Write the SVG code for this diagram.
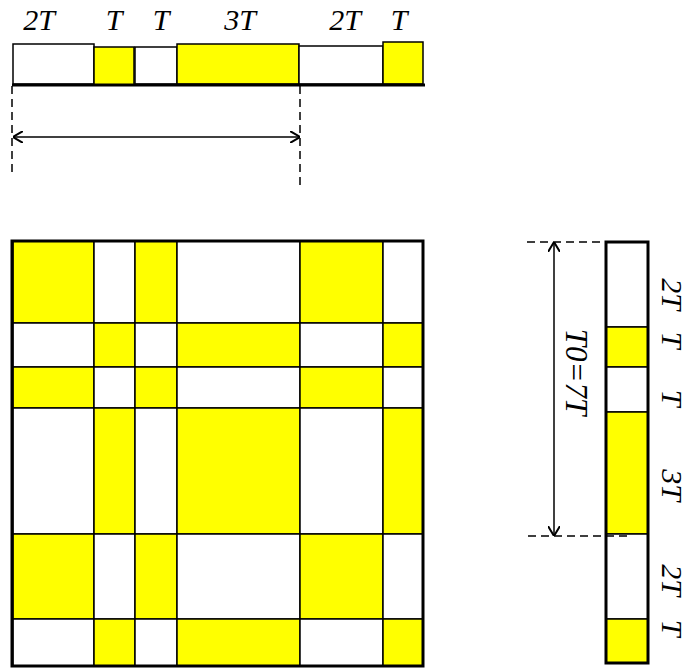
<svg xmlns="http://www.w3.org/2000/svg" width="689" height="670" viewBox="0 0 689 670">
<style>
.y{fill:#ffff00;stroke:#000;stroke-width:1.5}
.w{fill:#fff;stroke:#000;stroke-width:1.5}
.lbl{font-family:"Liberation Serif","Times New Roman",serif;font-style:italic;font-size:30px;fill:#000}
.dash{stroke:#000;stroke-width:1.5;stroke-dasharray:8 5;fill:none}
.arr{stroke:#000;stroke-width:1.5;fill:none;marker-start:url(#ah);marker-end:url(#ah)}
</style>
<defs>
<marker id="ah" viewBox="0 0 10 12" refX="10" refY="6" markerWidth="10" markerHeight="12" markerUnits="userSpaceOnUse" orient="auto-start-reverse">
<path d="M0,0 L10,6 L0,12" fill="none" stroke="#000" stroke-width="2"/>
</marker>
</defs>
<rect width="689" height="670" fill="#fff"/>

<g id="top-bar">
<rect class="w" x="13" y="44" width="81" height="40"/>
<rect class="y" x="94" y="47" width="40" height="38"/>
<rect class="w" x="135" y="47" width="42" height="37"/>
<rect class="y" x="177" y="44" width="122" height="40"/>
<rect class="w" x="299" y="46" width="84" height="38"/>
<rect class="y" x="383" y="42" width="40" height="42"/>
<line x1="12" y1="85" x2="425" y2="85" stroke="#000" stroke-width="3"/>
</g>

<g id="top-labels" class="lbl" text-anchor="middle">
<text x="39" y="30">2T</text>
<text x="114" y="30">T</text>
<text x="161" y="30">T</text>
<text x="240" y="30">3T</text>
<text x="345" y="30">2T</text>
<text x="399" y="30">T</text>
</g>

<g id="grid">
<rect class="y" x="13" y="241" width="81" height="82"/>
<rect class="w" x="94" y="241" width="41" height="82"/>
<rect class="y" x="135" y="241" width="42" height="82"/>
<rect class="w" x="177" y="241" width="123" height="82"/>
<rect class="y" x="300" y="241" width="83" height="82"/>
<rect class="w" x="383" y="241" width="40" height="82"/>

<rect class="w" x="13" y="323" width="81" height="44"/>
<rect class="y" x="94" y="323" width="41" height="44"/>
<rect class="w" x="135" y="323" width="42" height="44"/>
<rect class="y" x="177" y="323" width="123" height="44"/>
<rect class="w" x="300" y="323" width="83" height="44"/>
<rect class="y" x="383" y="323" width="40" height="44"/>

<rect class="y" x="13" y="367" width="81" height="41"/>
<rect class="w" x="94" y="367" width="41" height="41"/>
<rect class="y" x="135" y="367" width="42" height="41"/>
<rect class="w" x="177" y="367" width="123" height="41"/>
<rect class="y" x="300" y="367" width="83" height="41"/>
<rect class="w" x="383" y="367" width="40" height="41"/>

<rect class="w" x="13" y="408" width="81" height="126"/>
<rect class="y" x="94" y="408" width="41" height="126"/>
<rect class="w" x="135" y="408" width="42" height="126"/>
<rect class="y" x="177" y="408" width="123" height="126"/>
<rect class="w" x="300" y="408" width="83" height="126"/>
<rect class="y" x="383" y="408" width="40" height="126"/>

<rect class="y" x="13" y="534" width="81" height="85"/>
<rect class="w" x="94" y="534" width="41" height="85"/>
<rect class="y" x="135" y="534" width="42" height="85"/>
<rect class="w" x="177" y="534" width="123" height="85"/>
<rect class="y" x="300" y="534" width="83" height="85"/>
<rect class="w" x="383" y="534" width="40" height="85"/>

<rect class="w" x="13" y="619" width="81" height="47"/>
<rect class="y" x="94" y="619" width="41" height="47"/>
<rect class="w" x="135" y="619" width="42" height="47"/>
<rect class="y" x="177" y="619" width="123" height="47"/>
<rect class="w" x="300" y="619" width="83" height="47"/>
<rect class="y" x="383" y="619" width="40" height="47"/>

<rect x="12" y="241" width="411" height="425" fill="none" stroke="#000" stroke-width="3"/>
</g>

<g id="right-bar">
<rect class="w" x="606" y="242" width="42" height="85"/>
<rect class="y" x="606" y="327" width="42" height="40"/>
<rect class="w" x="606" y="367" width="42" height="45"/>
<rect class="y" x="606" y="412" width="42" height="122"/>
<rect class="w" x="606" y="534" width="42" height="85"/>
<rect class="y" x="606" y="619" width="42" height="44"/>
<rect x="606" y="242" width="42" height="421" fill="none" stroke="#000" stroke-width="3"/>
</g>

<g id="right-labels" class="lbl" text-anchor="middle">
<text transform="translate(662,294) rotate(90)">2T</text>
<text transform="translate(662,340) rotate(90)">T</text>
<text transform="translate(662,398) rotate(90)">T</text>
<text transform="translate(662,485) rotate(90)">3T</text>
<text transform="translate(662,580) rotate(90)">2T</text>
<text transform="translate(662,628) rotate(90)">T</text>
<text transform="translate(566,372) rotate(90)" style="font-size:31px">T0=7T</text>
</g>

<g id="connectors">
<line class="dash" x1="12" y1="86" x2="12" y2="176"/>
<line class="dash" x1="300" y1="86" x2="300" y2="186"/>
<line class="arr" x1="13" y1="137" x2="300" y2="137"/>
<line class="dash" x1="527" y1="242" x2="646" y2="242"/>
<line class="dash" x1="528" y1="536" x2="630" y2="536"/>
<line class="arr" x1="554" y1="242" x2="554" y2="536"/>
</g>
</svg>
